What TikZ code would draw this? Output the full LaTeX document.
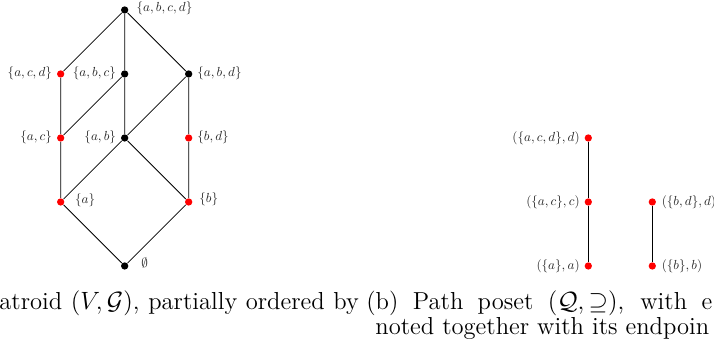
\documentclass[tikz,border=0pt]{standalone}
\usepackage{amssymb}
\usetikzlibrary{positioning}

\begin{document}
\begin{tikzpicture}[x=30.72pt,y=30.72pt,
  dot/.style={circle,fill=#1,inner sep=0pt,minimum size=3.5pt},dot/.default=black,
  lbl/.style={scale=0.63,text=black!85},
  captxt/.style={anchor=base west,inner sep=0pt,font=\fontsize{11.8}{14}\selectfont}]
  \useasboundingbox (-1.948,-1.3125) rectangle (9.208,4.156);
  \clip (-1.948,-1.3125) rectangle (9.208,4.156);
  % (a) lattice of the greedoid
  \node[dot,label={[lbl,xshift=2.5pt,yshift=1pt]right:$\{a,b,c,d\}$}] (abcd) at (0,4) {};
  \node[dot=red,label={[lbl,yshift=0.6pt]left:$\{a,c,d\}$}] (acd) at (-1,3) {};
  \node[dot,label={[lbl,yshift=0.6pt]left:$\{a,b,c\}$}] (abc) at (0,3) {};
  \node[dot,label={[lbl,yshift=0.6pt]right:$\{a,b,d\}$}] (abd) at (1,3) {};
  \node[dot=red,label={[lbl,yshift=0.6pt]left:$\{a,c\}$}] (ac) at (-1,2) {};
  \node[dot,label={[lbl,yshift=0.6pt]left:$\{a,b\}$}] (ab) at (0,2) {};
  \node[dot=red,label={[lbl,yshift=0.6pt]right:$\{b,d\}$}] (bd) at (1,2) {};
  \node[dot=red,label={[lbl,xshift=4.3pt,yshift=1pt]right:$\{a\}$}] (a) at (-1,1) {};
  \node[dot=red,label={[lbl,xshift=1.5pt,yshift=2pt]right:$\{b\}$}] (b) at (1,1) {};
  \node[dot,label={[lbl,xshift=6pt,yshift=2pt]right:$\emptyset$}] (empty) at (0,0) {};
  \draw (abcd) -- (acd) (abcd) -- (abc) (abcd) -- (abd);
  \draw (acd) -- (ac) (abc) -- (ac) (abc) -- (ab) (abd) -- (ab) (abd) -- (bd);
  \draw (ac) -- (a) (ab) -- (a) (ab) -- (b) (bd) -- (b);
  \draw (a) -- (empty) (b) -- (empty);
  % (b) path poset
  \node[dot=red,label={[lbl]left:$(\{a,c,d\},d)$}] (pacd) at (7.244,2) {};
  \node[dot=red,label={[lbl]left:$(\{a,c\},c)$}] (pac) at (7.244,1) {};
  \node[dot=red,label={[lbl]left:$(\{a\},a)$}] (pa) at (7.244,0) {};
  \node[dot=red,label={[lbl,xshift=0.6pt]right:$(\{b,d\},d)$}] (pbd) at (8.244,1) {};
  \node[dot=red,label={[lbl,xshift=0.6pt]right:$(\{b\},b)$}] (pb) at (8.244,0) {};
  \draw (pacd) -- (pac) -- (pa);
  \draw (pbd) -- (pb);
  % captions
  \node[captxt] (capa) at (-1.964,-0.6875) {\makebox[172.5pt][s]{atroid $(V,\mathcal{G})$, partially ordered by}};
  \node[captxt] (capb) at (3.770,-0.6875) {\makebox[166pt][s]{(b) Path poset $(\mathcal{Q},\supseteq)$, with e}};
  \node[captxt] (capc) at (3.911,-1.078) {noted together with its endpoin};
\end{tikzpicture}
\end{document}
